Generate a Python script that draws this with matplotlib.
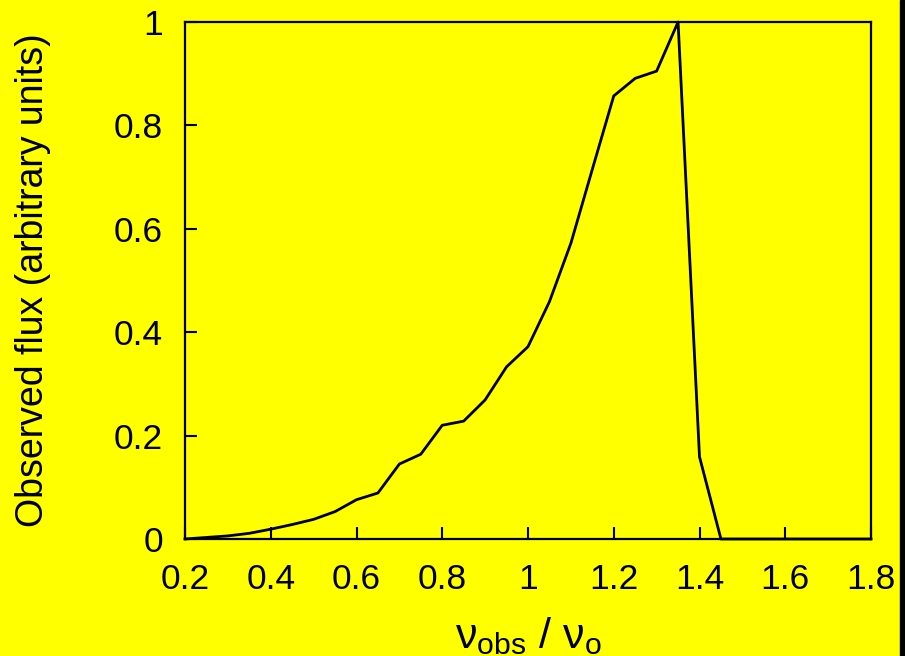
import matplotlib
matplotlib.use("Agg")
import matplotlib.pyplot as plt
from matplotlib.patches import Rectangle

plt.rcParams['font.family'] = ['Liberation Sans', 'DejaVu Sans']
plt.rcParams['mathtext.fontset'] = 'custom'
plt.rcParams['mathtext.rm'] = 'Liberation Sans'
plt.rcParams['mathtext.it'] = 'Liberation Sans:italic'

# frequency ratio nu_obs / nu_o and observed flux
nu_ratio = [0.20, 0.25, 0.30, 0.35, 0.40, 0.45, 0.50, 0.55, 0.60, 0.65,
            0.70, 0.75, 0.80, 0.85, 0.90, 0.95, 1.00, 1.05, 1.10, 1.15,
            1.20, 1.25, 1.30, 1.35, 1.40, 1.45, 1.50, 1.60, 1.70, 1.80]
flux = [0.000, 0.003, 0.006, 0.011, 0.019, 0.028, 0.038, 0.053, 0.076, 0.089,
        0.145, 0.164, 0.220, 0.228, 0.269, 0.333, 0.372, 0.459, 0.572, 0.715,
        0.857, 0.891, 0.905, 1.000, 0.159, 0.000, 0.000, 0.000, 0.000, 0.000]

xticks = [0.2, 0.4, 0.6, 0.8, 1.0, 1.2, 1.4, 1.6, 1.8]
yticks = [0, 0.2, 0.4, 0.6, 0.8, 1.0]

fig = plt.figure(figsize=(9.05, 6.56), dpi=100, facecolor='#ffff00')
ax = fig.add_axes([185/905, 1 - 539/656, 686/905, 517/656])
ax.set_facecolor('#ffff00')

ax.plot(nu_ratio, flux, color='black', lw=2.0, clip_on=False, zorder=3)

ax.set_xlim(0.2, 1.8)
ax.set_ylim(0, 1)
ax.set_xticks(xticks)
ax.set_xticklabels([f'{v:g}' for v in xticks])
ax.set_yticks(yticks)
ax.set_yticklabels([f'{v:g}' for v in yticks])

for s in ax.spines.values():
    s.set_linewidth(1.6)
ax.tick_params(axis='both', direction='in', length=8.6, width=1.5,
               labelsize=25.5, top=False, right=False)
ax.tick_params(axis='x', pad=17)
ax.tick_params(axis='y', pad=16)

ax.set_ylabel('Observed flux (arbitrary units)', fontsize=27)
ax.yaxis.set_label_coords(-0.195, 0.5)
ax.set_xlabel(r'$\mathrm{\nu_{obs}}$ / $\mathrm{\nu_{o}}$', fontsize=31)
ax.xaxis.set_label_coords(0.5, -0.148)

# black strip at right edge
fig.patches.append(Rectangle((900/905, 0), 5/905, 1, transform=fig.transFigure,
                             color='black'))

fig.savefig('out.png', dpi=100, facecolor=fig.get_facecolor())
